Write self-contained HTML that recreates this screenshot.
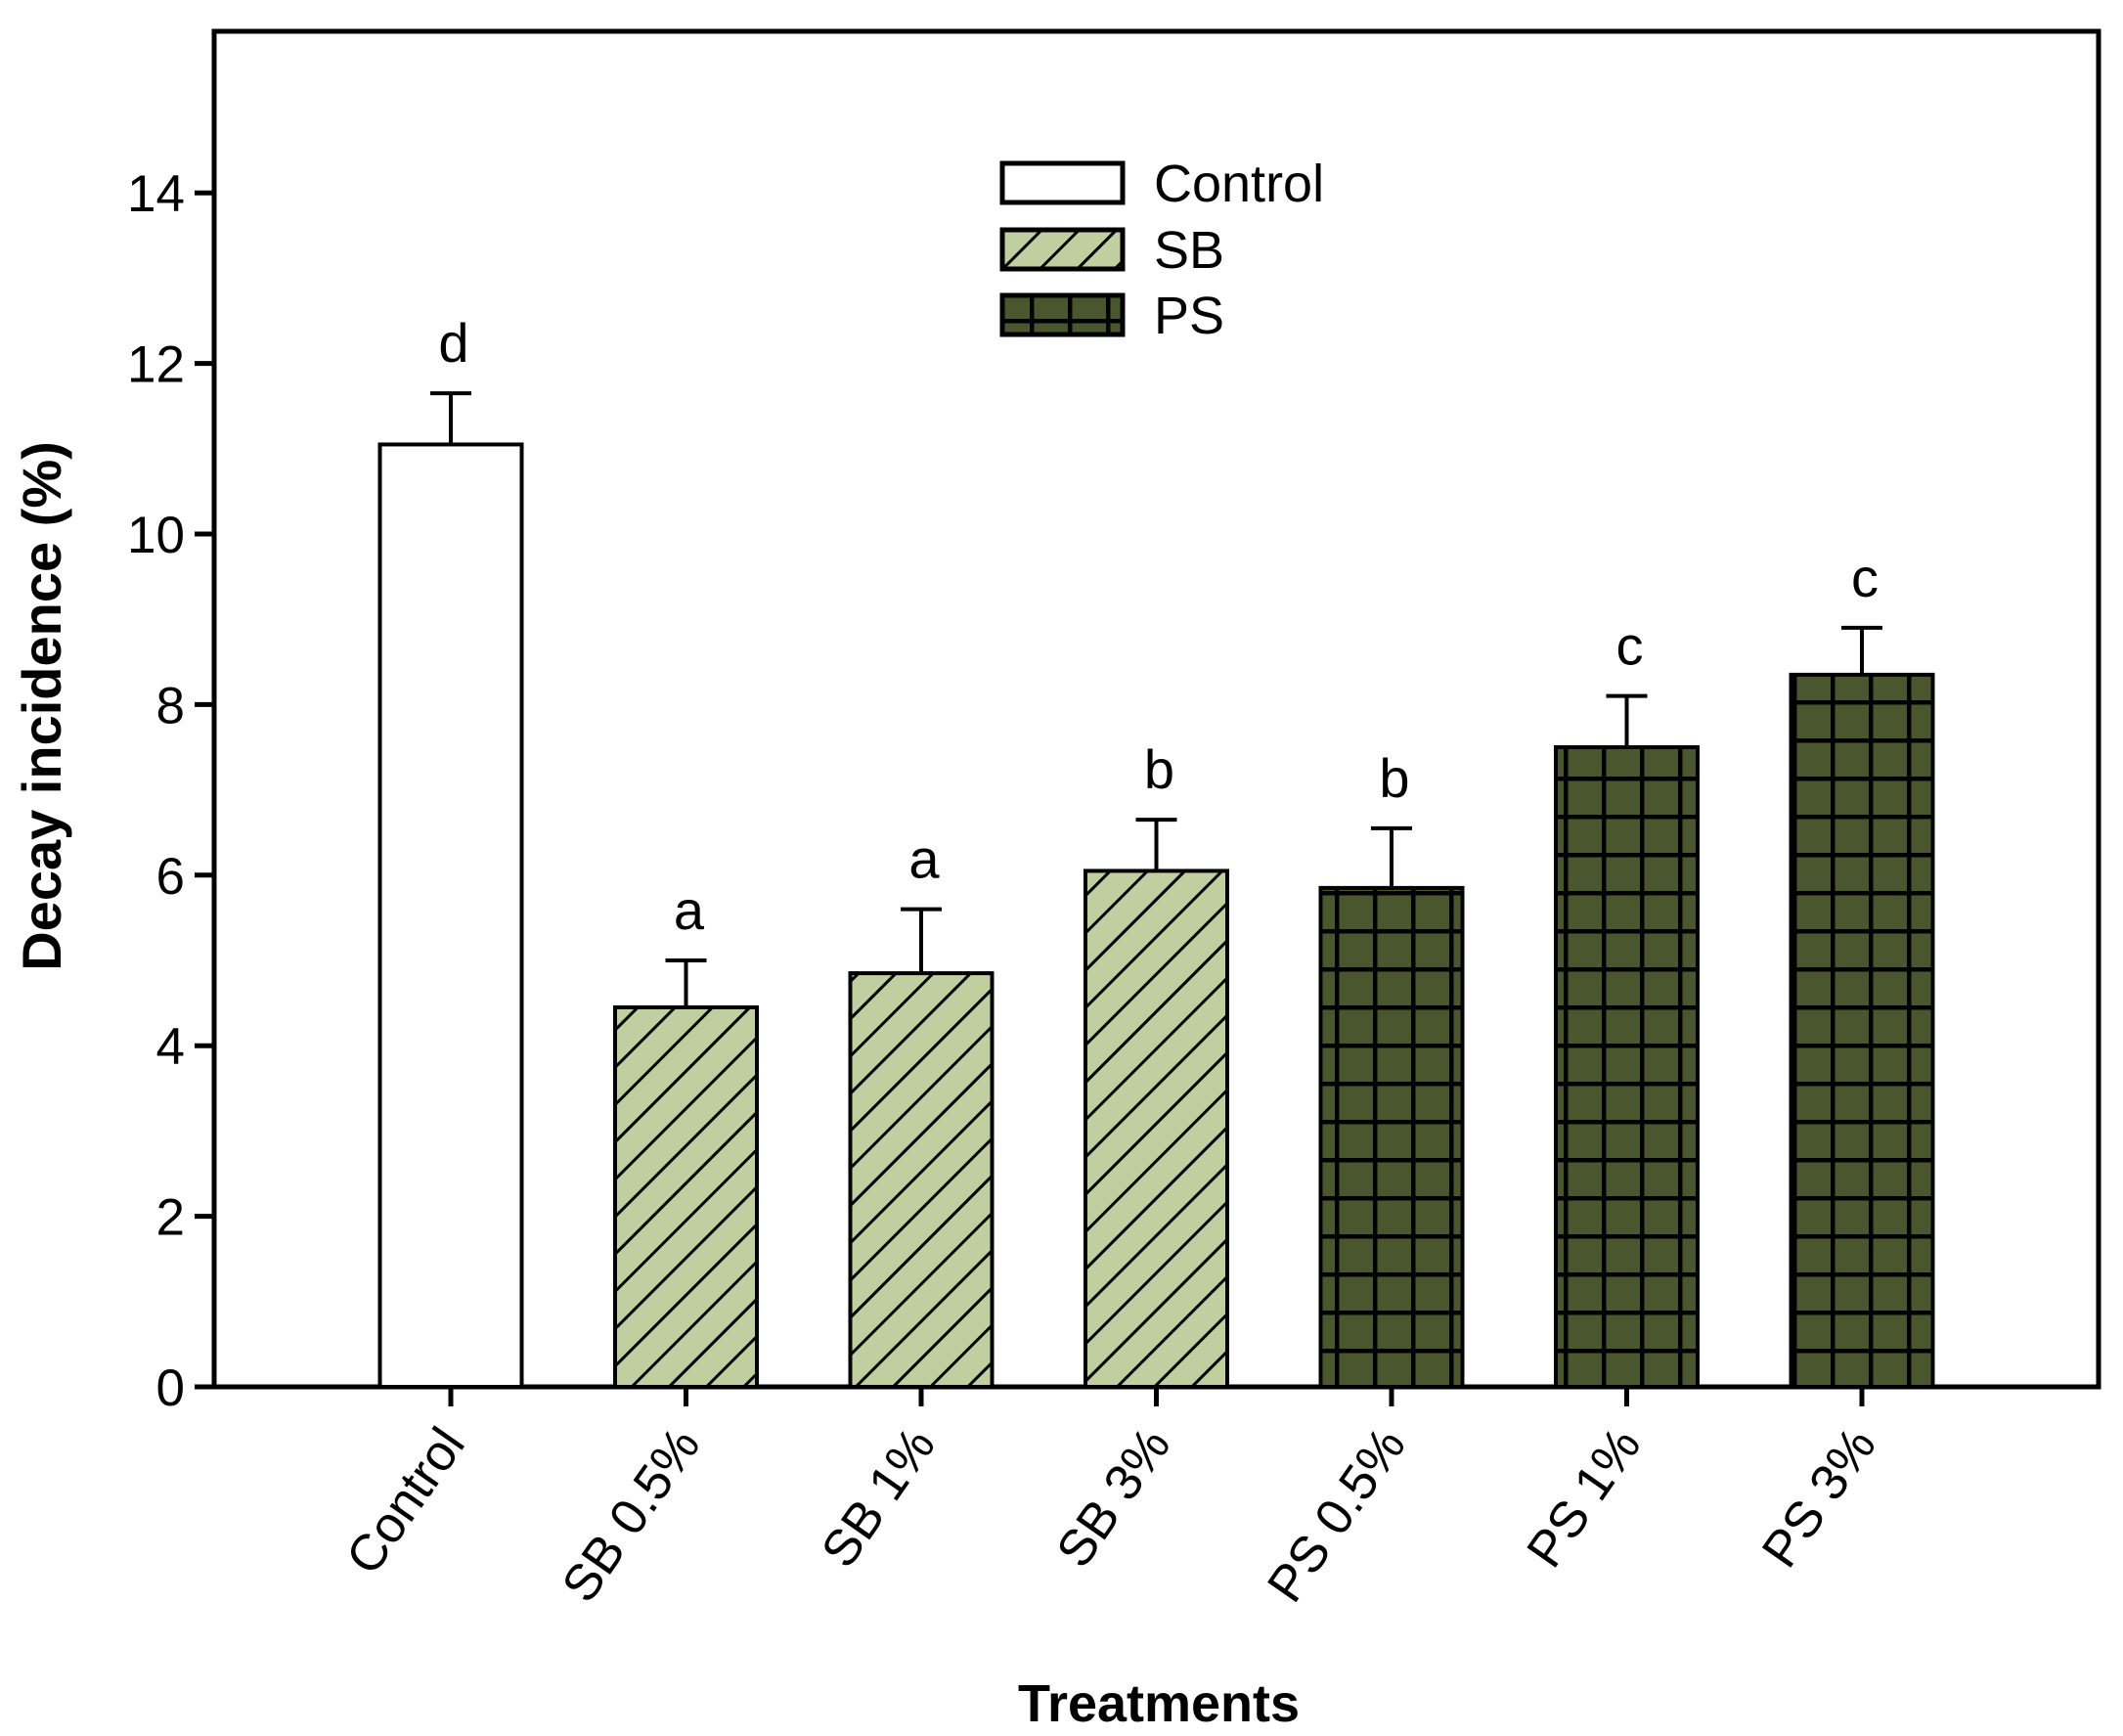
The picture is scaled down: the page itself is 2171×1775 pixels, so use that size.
<!DOCTYPE html>
<html><head><meta charset="utf-8"><style>
html,body{margin:0;padding:0;background:#fff}
svg{display:block;font-family:"Liberation Sans",sans-serif}
</style></head><body>
<svg id="chart" width="2171" height="1775" viewBox="0 0 2171 1775" xmlns="http://www.w3.org/2000/svg">
<defs>
<pattern id="hatch" patternUnits="userSpaceOnUse" width="27" height="27" patternTransform="rotate(45)">
<rect width="27" height="27" fill="#bfcfa0"/>
<line x1="0" y1="0" x2="0" y2="27" stroke="#000" stroke-width="6"/>
</pattern>
<pattern id="grid" patternUnits="userSpaceOnUse" width="39" height="39" x="0" y="1418">
<rect width="39" height="39" fill="#4a572e"/>
<line x1="2" y1="0" x2="2" y2="39" stroke="#000" stroke-width="5"/>
<line x1="0" y1="2" x2="39" y2="2" stroke="#000" stroke-width="5"/>
</pattern>
</defs>
<g id="plot"></g>
</svg>
<script>
const categories=["Control","SB 0.5%","SB 1%","SB 3%","PS 0.5%","PS 1%","PS 3%"];
const values=[11.05,4.45,4.85,6.05,5.85,7.5,8.35];
const errors=[0.6,0.55,0.75,0.6,0.7,0.6,0.55];
const letters=["d","a","a","b","b","c","c"];
const groups=["Control","SB","SB","SB","PS","PS","PS"];
const yTicks=[0,2,4,6,8,10,12,14];

const NS="http://www.w3.org/2000/svg";
const g=document.getElementById('plot');
const X0=219,X1=2146,Y0=1418,PER=87.2;
function y(v){return Y0-v*PER;}
function x(i){return 461+i*240.5;}
const fills={Control:"#fff",SB:"url(#hatch)",PS:"url(#grid)"};
function el(tag,attrs,parent){const e=document.createElementNS(NS,tag);for(const k in attrs)e.setAttribute(k,attrs[k]);(parent||g).appendChild(e);return e;}

const frame=el('rect',{x:X0,y:32,width:X1-X0,height:Y0-32,fill:"none",stroke:"#000","stroke-width":5});



yTicks.forEach(t=>{
  const tk=el('line',{x1:X0-20,x2:X0,y1:y(t),y2:y(t),stroke:"#000","stroke-width":5});
  
  
  const tx=el('text',{x:X0-30,y:y(t)+19,"text-anchor":"end","font-size":53});
  tx.textContent=t;
  
  
});

categories.forEach((c,i)=>{
  const cx=x(i),w=145,top=y(values[i]);
  const b=el('rect',{x:cx-w/2,y:top,width:w,height:Y0-top,fill:fills[groups[i]],stroke:"#000","stroke-width":4});
  
  
  const et=y(values[i]+errors[i]);
  const e1=el('line',{x1:cx,x2:cx,y1:top,y2:et,stroke:"#000","stroke-width":4});
  
  
  const e2=el('line',{x1:cx-21,x2:cx+21,y1:et,y2:et,stroke:"#000","stroke-width":4});
  
  
  const lt=el('text',{x:cx+3,y:et-32,"text-anchor":"middle","font-size":56});
  lt.textContent=letters[i];
  
  
  const tk=el('line',{x1:cx,x2:cx,y1:Y0,y2:Y0+20,stroke:"#000","stroke-width":5});
  
  
  const xl=el('text',{x:cx+16,y:Y0+58,"text-anchor":"end","font-size":52,transform:`rotate(-55 ${cx+16} ${Y0+58})`});
  xl.textContent=c;
  
  
});

const leg=[["Control",167],["SB",235],["PS",302]];
leg.forEach(([n,ly])=>{
  const r=el('rect',{x:1025,y:ly,width:123,height:40,fill:fills[n],stroke:"#000","stroke-width":5});
  
  
  const t=el('text',{x:1180,y:ly+39,"font-size":54});
  t.textContent=n;
  
  
});

const yt=el('text',{x:0,y:0,"font-size":56,"font-weight":"bold","text-anchor":"middle",transform:"translate(62 722) rotate(-90)"});
yt.textContent="Decay incidence (%)";


const xt=el('text',{x:1185,y:1760,"font-size":54,"font-weight":"bold","text-anchor":"middle"});
xt.textContent="Treatments";


</script>
</body></html>
